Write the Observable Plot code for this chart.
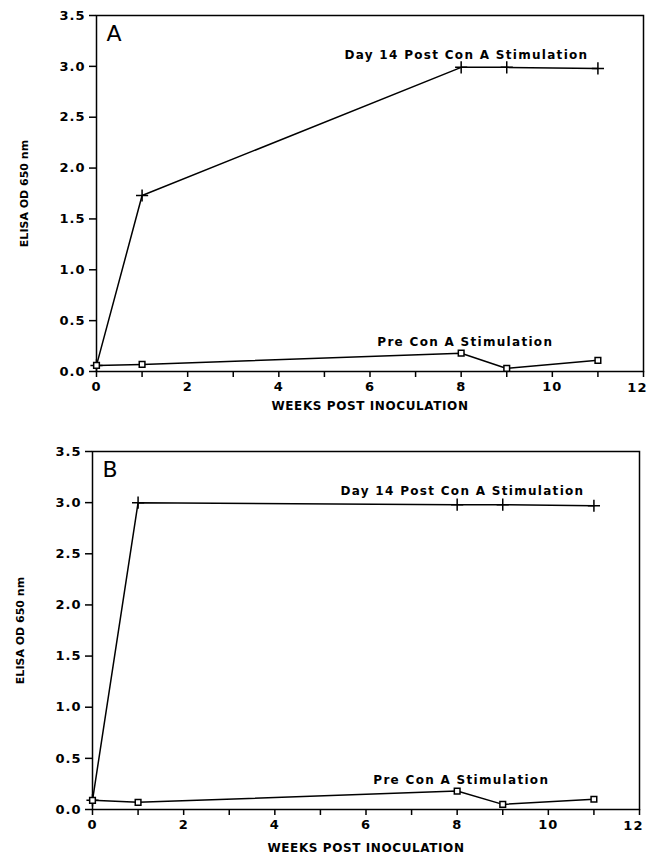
<!DOCTYPE html>
<html>
<head>
<meta charset="utf-8">
<script src="https://cdn.jsdelivr.net/npm/d3@7"></script>
<script src="https://cdn.jsdelivr.net/npm/@observablehq/plot@0.6"></script>
<style>
  body { margin: 0; padding: 0; background: #fff; }
  #chart svg { display: block; }
  #chart svg [aria-label="text"] text { letter-spacing: 1.3px; }
  #chart svg [aria-label="x-axis label"] text { letter-spacing: 0.6px; }
  #chart svg [aria-label="x-axis tick label"] text,
  #chart svg [aria-label="y-axis tick label"] text { letter-spacing: 1px; font-size: 13px; }
</style>
</head>
<body>
<div id="chart"></div>
<script>
const weeks = [0, 1, 8, 9, 11];
const aDay14 = [0.06, 1.73, 2.99, 2.99, 2.98];
const aPre = [0.06, 0.07, 0.18, 0.03, 0.11];
const bDay14 = [0.09, 3.0, 2.98, 2.98, 2.97];
const bPre = [0.09, 0.07, 0.18, 0.05, 0.10];
const xTicks = [0, 1, 2, 3, 4, 5, 6, 7, 8, 9, 10, 11, 12];
const yTicks = [0, 0.5, 1.0, 1.5, 2.0, 2.5, 3.0, 3.5];
const lastXLabel = [12];
const panelLetters = ["A", "B"];
const seriesLabels = ["Day 14 Post Con A Stimulation", "Pre Con A Stimulation"];
const xTitle = "WEEKS POST INOCULATION";
const yTitle = "ELISA OD 650 nm";
const labelPos = [{x: 5.44, y: 3.11}, {x: 6.16, y: 0.29}];

function panel(day14, pre, letter, m) {
  const d14 = weeks.map((w, i) => ({w, v: day14[i]}));
  const pr = weeks.map((w, i) => ({w, v: pre[i]}));
  return Plot.plot({
    width: 650,
    height: m.height,
    marginLeft: m.left,
    marginRight: m.right,
    marginTop: m.top,
    marginBottom: m.bottom,
    style: {fontFamily: "DejaVu Sans", fontSize: "12px", fontWeight: "bold", color: "#000", background: "#fff"},
    x: {domain: [0, 12]},
    y: {domain: [0, 3.5]},
    marks: [
      Plot.frame({stroke: "#000", strokeWidth: 1.5}),
      Plot.axisX({ticks: xTicks, tickFormat: d => (d % 2 === 0 && d < 12) ? String(d) : "", tickSize: 6, tickPadding: 4,
                  label: xTitle, labelAnchor: "center", labelOffset: m.xLabelOffset, labelArrow: "none", strokeWidth: 1.5}),
      Plot.text(lastXLabel, {x: d => d, text: d => String(d), frameAnchor: "bottom", lineAnchor: "top", dy: 11, dx: -6,
                  fontSize: 13, fontWeight: "bold", className: "lastlabel"}),
      Plot.axisY({ticks: yTicks, tickFormat: d3.format(".1f"), tickSize: 7, tickPadding: 4,
                  label: yTitle, labelAnchor: "center", labelOffset: 76, labelArrow: "none", fontSize: 11, strokeWidth: 1.5}),
      Plot.line(d14, {x: "w", y: "v", stroke: "#000", strokeWidth: 1.5}),
      Plot.line(pr, {x: "w", y: "v", stroke: "#000", strokeWidth: 1.5}),
      Plot.dot(d14, {x: "w", y: "v", symbol: "plus", r: 4, stroke: "#000", strokeWidth: 1.5}),
      Plot.dot(pr, {x: "w", y: "v", symbol: "square", r: 3.2, fill: "#fff", stroke: "#000", strokeWidth: 1.5}),
      Plot.text([seriesLabels[0]], {x: labelPos[0].x, y: labelPos[0].y, text: d => d, textAnchor: "start", fontSize: 12, fontWeight: "bold"}),
      Plot.text([seriesLabels[1]], {x: labelPos[1].x, y: labelPos[1].y, text: d => d, textAnchor: "start", fontSize: 12, fontWeight: "bold"}),
      Plot.text([letter], {frameAnchor: "top-left", dx: 10, dy: 10, text: d => d, fontSize: 22, fontWeight: "normal", lineAnchor: "top"})
    ]
  });
}

const chart = document.getElementById("chart");
chart.appendChild(panel(aDay14, aPre, panelLetters[0], {height: 425, left: 96, right: 7, top: 15, bottom: 54, xLabelOffset: 38}));
chart.appendChild(panel(bDay14, bPre, panelLetters[1], {height: 435, left: 92, right: 11, top: 26, bottom: 51, xLabelOffset: 42}));
</script>
</body>
</html>
